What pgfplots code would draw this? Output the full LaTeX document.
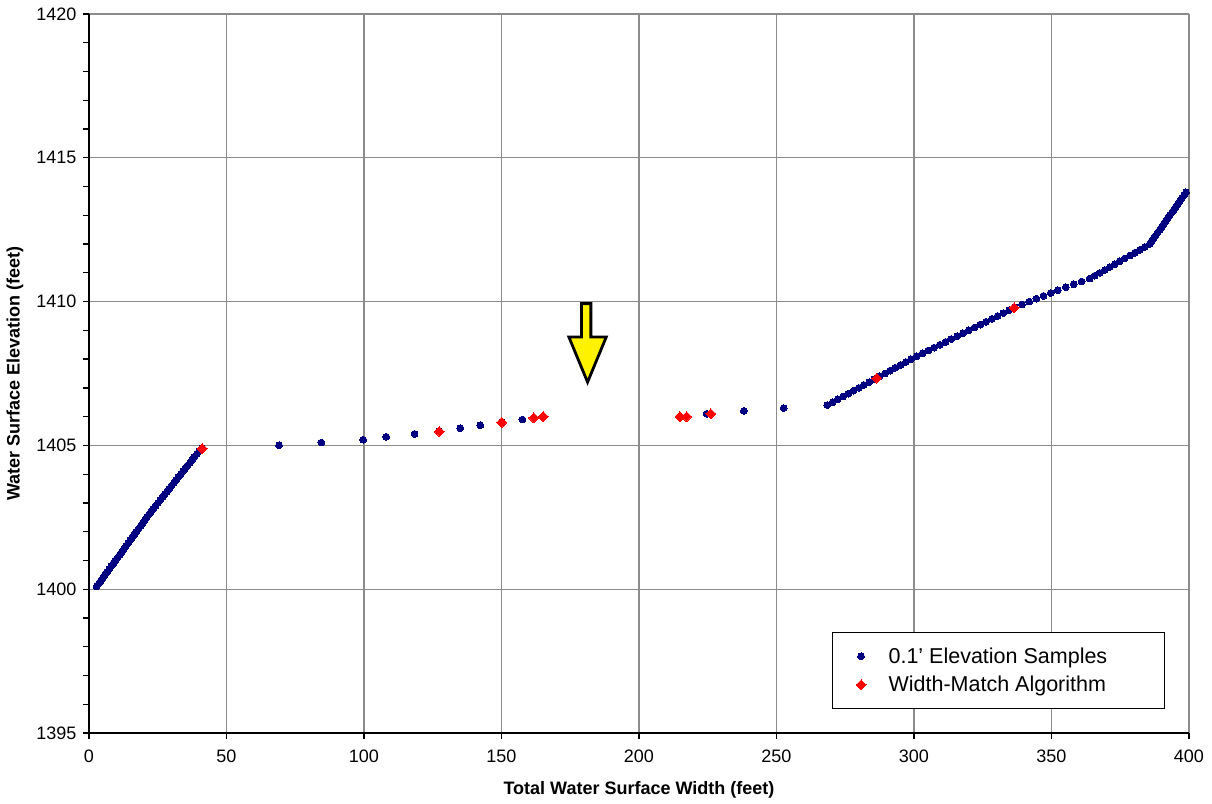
\documentclass[border=0pt]{standalone}
\usepackage{pgfplots}
\pgfplotsset{compat=1.18}
\usepackage{fontspec}
\setmainfont{Liberation Sans}
\definecolor{navyb}{RGB}{0,0,128}
\definecolor{gridg}{RGB}{140,140,140}
\begin{document}
\begin{tikzpicture}
\begin{axis}[
  scale only axis, width=1100pt, height=719pt,
  at={(0pt,0pt)}, anchor=south west,
  xmin=0, xmax=400, ymin=1395, ymax=1420,
  xtick={0,50,...,400}, ytick={1395,1400,...,1420},
  minor y tick num=4,
  axis x line*=bottom, axis y line*=left,
  axis line style={-, black, line width=1.6pt},
  grid=major,
  major grid style={gridg, line width=1.3pt},
  tick align=outside,
  major tick length=6pt, minor tick length=6pt,
  tick style={black, line width=1.3pt},
  /pgf/number format/assume math mode=true,
  /pgf/number format/1000 sep={},
  xticklabel style={font=\fontsize{18}{21}\selectfont, yshift=-7pt},
  yticklabel style={font=\fontsize{18}{21}\selectfont, xshift=-3pt},
  xlabel={\bfseries Total Water Surface Width (feet)},
  ylabel={\bfseries Water Surface Elevation (feet)},
  xlabel style={font=\fontsize{18}{22}\selectfont, at={(axis description cs:0.5,-0.0793)}, anchor=center},
  ylabel style={font=\fontsize{18}{22}\selectfont, at={(axis description cs:-0.0673,0.5)}, anchor=center},
  legend style={at={(0.978,0.0334)}, anchor=south east, draw=black, line width=1pt, fill=white,
    font=\fontsize{21.5}{25}\selectfont, row sep=11.5pt, inner xsep=0pt, inner ysep=15pt,
    nodes={inner sep=0pt}},
  legend cell align=left,
  legend image code/.code={\path (-28pt,0pt) (27pt,0pt); \draw[#1] plot[only marks] coordinates {(0pt,0pt)};},
]
\addplot[only marks, mark=*, mark size=3.4pt, mark options={fill=navyb, draw=navyb, line width=0pt}] coordinates {
(2.8,1400.1)(3.6,1400.2)(4.3,1400.3)(5.1,1400.4)(5.8,1400.5)(6.6,1400.6)(7.4,1400.7)(8.1,1400.8)(8.9,1400.9)(9.6,1401.0)
(10.4,1401.1)(11.2,1401.2)(11.9,1401.3)(12.7,1401.4)(13.4,1401.5)(14.2,1401.6)(15.0,1401.7)(15.7,1401.8)(16.5,1401.9)(17.2,1402.0)
(18.0,1402.1)(18.8,1402.2)(19.5,1402.3)(20.3,1402.4)(21.0,1402.5)(21.8,1402.6)(22.6,1402.7)
(23.4,1402.8)(24.2,1402.9)(25.1,1403.0)(25.9,1403.1)(26.7,1403.2)(27.5,1403.3)(28.4,1403.4)(29.2,1403.5)(30.0,1403.6)(30.9,1403.7)
(31.7,1403.8)(32.5,1403.9)(33.4,1404.0)(34.2,1404.1)(35.0,1404.2)(35.8,1404.3)(36.7,1404.4)(37.5,1404.5)(38.3,1404.6)(39.2,1404.7)
(40.0,1404.8)(41.2,1404.9)
(69.1,1405.0)(84.5,1405.1)(99.7,1405.2)(108.1,1405.3)(118.4,1405.4)(127.4,1405.5)(135.0,1405.6)(142.3,1405.7)(150.1,1405.8)(157.6,1405.9)
(165.2,1406.0)(224.6,1406.1)(238.1,1406.2)(252.6,1406.3)
(268.5,1406.4)(270.4,1406.5)(272.3,1406.6)(274.2,1406.7)(276.1,1406.8)(278.0,1406.9)(279.9,1407.0)(281.8,1407.1)(283.7,1407.2)(285.6,1407.3)
(287.5,1407.4)(289.4,1407.5)(291.3,1407.6)(293.2,1407.7)(295.1,1407.8)(297.0,1407.9)(298.9,1408.0)
(301.0,1408.1)(303.1,1408.2)(305.2,1408.3)(307.3,1408.4)(309.4,1408.5)(311.5,1408.6)(313.6,1408.7)(315.7,1408.8)(317.8,1408.9)(319.9,1409.0)
(322.0,1409.1)(324.1,1409.2)(326.2,1409.3)(328.3,1409.4)(330.4,1409.5)(332.5,1409.6)(334.6,1409.7)(336.7,1409.8)
(339.3,1409.9)(341.9,1410.0)(344.5,1410.1)(347.1,1410.2)(349.7,1410.3)(352.3,1410.4)
(355.2,1410.5)(358.1,1410.6)(361.0,1410.7)(363.9,1410.8)
(365.7,1410.9)(367.5,1411.0)(369.4,1411.1)(371.2,1411.2)(373.0,1411.3)(374.8,1411.4)(376.6,1411.5)(378.5,1411.6)(380.3,1411.7)(382.1,1411.8)
(383.9,1411.9)(385.7,1412.0)
(386.4,1412.1)(387.2,1412.2)(387.9,1412.3)(388.6,1412.4)(389.4,1412.5)(390.1,1412.6)(390.8,1412.7)(391.6,1412.8)(392.3,1412.9)(393.0,1413.0)
(393.8,1413.1)(394.5,1413.2)(395.2,1413.3)(396.0,1413.4)(396.7,1413.5)(397.4,1413.6)(398.2,1413.7)(398.9,1413.8)
};
\addlegendentry{0.1’ Elevation Samples\hspace*{57pt}}
\addplot[only marks, mark=square*, mark size=3.5pt, mark options={rotate=45, fill=red, draw=red, line width=0pt}] coordinates {
(41.2,1404.89)(127.4,1405.48)(150.1,1405.80)(161.7,1405.96)(165.2,1406.00)
(214.9,1406.00)(217.3,1406.00)(226.1,1406.10)(286.5,1407.34)(336.4,1409.78)
};
\addlegendentry{Width-Match Algorithm}
\draw[fill=yellow, draw=black, line width=2.8pt, line join=miter]
  (axis cs:179.1,1409.93) -- (axis cs:182.5,1409.93) -- (axis cs:182.5,1408.77)
  -- (axis cs:188.1,1408.77) -- (axis cs:181.3,1407.2) -- (axis cs:174.5,1408.77)
  -- (axis cs:179.1,1408.77) -- cycle;
\end{axis}
\pgfresetboundingbox
\path[use as bounding box] (-89pt,-70pt) rectangle (1123pt,733pt);
\end{tikzpicture}
\end{document}
